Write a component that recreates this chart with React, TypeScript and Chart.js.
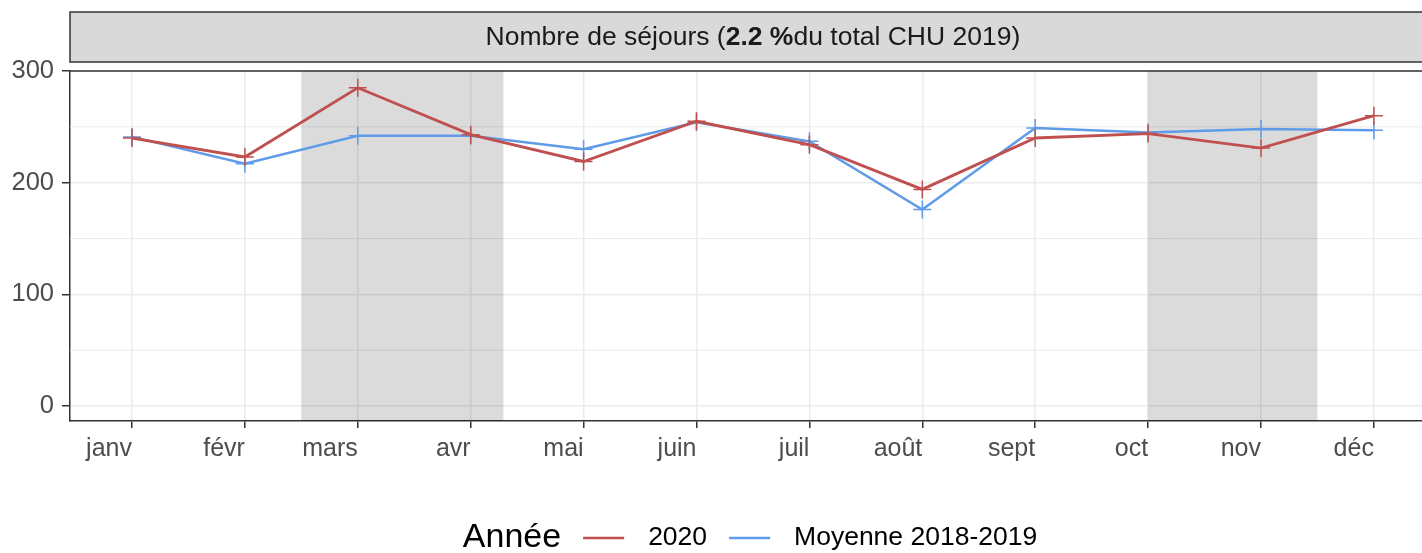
import React, { useEffect, useRef } from "react";
import { Chart, registerables } from "chart.js";

Chart.register(...registerables);

const months = ["janv", "févr", "mars", "avr", "mai", "juin", "juil", "août", "sept", "oct", "nov", "déc"];
const values2020 = [240, 223, 285, 243, 219, 255, 234, 194, 240, 244, 231, 260];
const valuesMoyenne = [241, 217, 242, 242, 230, 254, 237, 176, 249, 245, 248, 247];
const yTicks = [0, 100, 200, 300];
const yMinorTicks = [50, 150, 250];
const shadedPeriods = [
  [1.5, 3.29],
  [9.0, 10.5],
];
const seriesNames = ["2020", "Moyenne 2018-2019"];
const legendTitle = "Année";
const stripParts = [
  { text: "Nombre de séjours (", bold: false },
  { text: "2.2 %", bold: true },
  { text: "du total CHU 2019)", bold: false },
];

const RED = "#C0504F";
const BLUE = "#5F9BE6";
const FONT = "'Liberation Sans', Arial, sans-serif";

const decorPlugin = {
  id: "decor",
  beforeDatasetsDraw(chart: any) {
    const { ctx, chartArea } = chart;
    const x = chart.scales.x;
    const y = chart.scales.y;
    ctx.save();
    ctx.beginPath();
    ctx.rect(chartArea.left, chartArea.top, chartArea.right - chartArea.left, chartArea.bottom - chartArea.top);
    ctx.clip();
    ctx.strokeStyle = "#EBEBEB";
    ctx.lineWidth = 1;
    for (const v of yMinorTicks) {
      const py = y.getPixelForValue(v);
      ctx.beginPath();
      ctx.moveTo(chartArea.left, py);
      ctx.lineTo(chartArea.right, py);
      ctx.stroke();
    }
    ctx.fillStyle = "rgba(0,0,0,0.14)";
    for (const [a, b] of shadedPeriods) {
      const x0 = x.getPixelForValue(a);
      const x1 = x.getPixelForValue(b);
      ctx.fillRect(x0, chartArea.top, x1 - x0, chartArea.bottom - chartArea.top);
    }
    ctx.restore();
  },
  afterDraw(chart: any) {
    const { ctx, chartArea, width } = chart;
    ctx.save();
    // top border of panel
    ctx.strokeStyle = "#333333";
    ctx.lineWidth = 1.5;
    ctx.beginPath();
    ctx.moveTo(chartArea.left, chartArea.top);
    ctx.lineTo(width + 20, chartArea.top);
    ctx.stroke();

    // strip
    const stripTop = 12;
    const stripBottom = 62;
    ctx.fillStyle = "#D9D9D9";
    ctx.fillRect(chartArea.left, stripTop, width + 20 - chartArea.left, stripBottom - stripTop);
    ctx.beginPath();
    ctx.rect(chartArea.left, stripTop, width + 20 - chartArea.left, stripBottom - stripTop);
    ctx.stroke();

    // strip text
    const fs = 26.5;
    let total = 0;
    const widths: number[] = [];
    for (const p of stripParts) {
      ctx.font = `${p.bold ? "bold " : ""}${fs}px ${FONT}`;
      const w = ctx.measureText(p.text).width;
      widths.push(w);
      total += w;
    }
    const xs = chart.scales.x;
    const panelRight = xs.getPixelForValue(months.length - 1) + (xs.getPixelForValue(0) - chartArea.left);
    const center = (chartArea.left + panelRight) / 2;
    let cx = center - total / 2;
    ctx.fillStyle = "#1A1A1A";
    ctx.textBaseline = "middle";
    ctx.textAlign = "left";
    stripParts.forEach((p, i) => {
      ctx.font = `${p.bold ? "bold " : ""}${fs}px ${FONT}`;
      ctx.fillText(p.text, cx, (stripTop + stripBottom) / 2 + 1);
      cx += widths[i];
    });

    // legend
    const ly = 538;
    const titleFont = `34px ${FONT}`;
    const labelFont = `26.5px ${FONT}`;
    ctx.font = titleFont;
    const tw = ctx.measureText(legendTitle).width;
    ctx.font = labelFont;
    const lw = seriesNames.map((s) => ctx.measureText(s).width);
    const keyW = 41;
    const gapTitle = 22;
    const gapKey = 24;
    const gapItem = 22;
    const totalW = tw + gapTitle + lw.reduce((a, b) => a + b, 0) + seriesNames.length * (keyW + gapKey) + gapItem * (seriesNames.length - 1);
    let lx = 750 - totalW / 2;
    ctx.fillStyle = "#000000";
    ctx.font = titleFont;
    ctx.fillText(legendTitle, lx, ly);
    lx += tw + gapTitle;
    const colors = [RED, BLUE];
    seriesNames.forEach((s, i) => {
      ctx.strokeStyle = colors[i];
      ctx.lineWidth = 2.5;
      ctx.beginPath();
      ctx.moveTo(lx, ly);
      ctx.lineTo(lx + keyW, ly);
      ctx.stroke();
      lx += keyW + gapKey;
      ctx.font = labelFont;
      ctx.fillStyle = "#000000";
      ctx.fillText(s, lx, ly);
      lx += lw[i] + gapItem;
    });
    ctx.restore();
  },
};

export default function App() {
  const ref = useRef<HTMLCanvasElement>(null);
  useEffect(() => {
    if (!ref.current) return;
    const mk = (vals: number[]) => vals.map((v, i) => ({ x: i, y: v }));
    const chart = new Chart(ref.current, {
      type: "line",
      data: {
        datasets: [
          {
            label: seriesNames[0],
            data: mk(values2020),
            borderColor: RED,
            backgroundColor: RED,
            borderWidth: 2.8,
            pointStyle: "cross",
            pointRadius: 9,
            pointBorderWidth: 1.5,
            pointBorderColor: RED,
            tension: 0,
          },
          {
            label: seriesNames[1],
            data: mk(valuesMoyenne),
            borderColor: BLUE,
            backgroundColor: BLUE,
            borderWidth: 2.5,
            pointStyle: "cross",
            pointRadius: 9,
            pointBorderWidth: 1.5,
            pointBorderColor: BLUE,
            tension: 0,
          },
        ],
      },
      plugins: [decorPlugin],
      options: {
        animation: false,
        responsive: false,
        maintainAspectRatio: false,
        layout: { autoPadding: false, padding: { top: 71, left: 0, right: 0, bottom: 0 } },
        plugins: { legend: { display: false }, tooltip: { enabled: false }, title: { display: false } },
        scales: {
          x: {
            type: "linear",
            min: -0.549,
            max: 11.426,
            afterBuildTicks: (s: any) => {
              s.ticks = months.map((_, i) => ({ value: i }));
            },
            afterFit: (s: any) => {
              s.height = 132;
              s.paddingLeft = 0;
              s.paddingRight = 0;
            },
            ticks: {
              callback: (v: any) => months[v] ?? "",
              align: "end",
              autoSkip: false,
              maxRotation: 0,
              minRotation: 0,
              padding: 6,
              color: "#4D4D4D",
              font: { family: FONT, size: 25 },
            },
            grid: {
              color: "#EBEBEB",
              lineWidth: 1.5,
              tickColor: "#333333",
              tickLength: 7,
              tickWidth: 1.5,
            },
            border: { color: "#333333", width: 1.5 },
          },
          y: {
            type: "linear",
            min: -13.4,
            max: 300,
            afterBuildTicks: (s: any) => {
              s.ticks = yTicks.map((v) => ({ value: v }));
            },
            afterFit: (s: any) => {
              s.width = 70;
            },
            ticks: {
              padding: 8,
              color: "#4D4D4D",
              font: { family: FONT, size: 25.5 },
            },
            grid: {
              color: "#EBEBEB",
              lineWidth: 1.5,
              tickColor: "#333333",
              tickLength: 8,
              tickWidth: 1.5,
            },
            border: { color: "#333333", width: 1.5 },
          },
        },
      },
    });
    return () => chart.destroy();
  }, []);
  return (
    <div style={{ position: "absolute", left: 0, top: 0, width: 1422, height: 553, background: "#fff" }}>
      <canvas ref={ref} width={1422} height={553} style={{ display: "block" }} />
    </div>
  );
}
